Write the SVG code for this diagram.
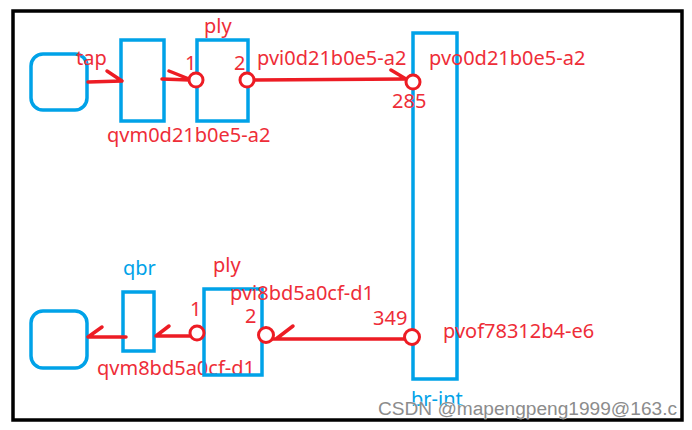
<svg xmlns="http://www.w3.org/2000/svg" width="692" height="430" viewBox="0 0 692 430">
<style>
.bl{fill:none;stroke:#00a2e8;stroke-width:3.5}
.rd{fill:none;stroke:#ed1c24;stroke-width:3.5;stroke-linecap:round}
.pt{fill:#fff;stroke:#ed1c24;stroke-width:3}
.t{font-family:"Noto Sans","Liberation Sans",sans-serif;font-size:20px;fill:#ee2d38}
.tb{font-family:"Noto Sans","Liberation Sans",sans-serif;font-size:20px;fill:#00a2e8}
.wm{font-family:"Liberation Sans",Arial,sans-serif;font-size:18px;fill:#8c8c8c;stroke:#fff;stroke-width:0.6;paint-order:stroke}
</style>
<rect x="0" y="0" width="692" height="430" fill="#fff"/>
<rect x="13" y="11" width="669" height="409" fill="#fff" stroke="#000" stroke-width="3.5"/>

<g id="vm1"><rect class="bl" x="31" y="54" width="56" height="56" rx="12"/>
<text class="t" x="76" y="65">tap</text></g>
<g id="qvm1"><rect class="bl" x="121" y="40" width="43" height="81"/>
<text class="t" x="107" y="142">qvm0d21b0e5-a2</text></g>
<g id="ply1"><rect class="bl" x="197" y="40" width="51" height="81"/>
<text class="t" x="204" y="33">ply</text>
<text class="t" x="185" y="70">1</text>
<text class="t" x="234" y="70">2</text>
<text class="t" x="257" y="65">pvi0d21b0e5-a2</text></g>
<g id="brint"><rect class="bl" x="413" y="33" width="44" height="346"/>
<text class="tb" x="411" y="406">br-int</text>
<text class="t" x="429" y="65">pvo0d21b0e5-a2</text>
<text class="t" x="392" y="108">285</text>
<text class="t" x="373" y="325">349</text>
<text class="t" x="443" y="338">pvof78312b4-e6</text></g>

<g id="vm2"><rect class="bl" x="31" y="311" width="56" height="57" rx="12"/></g>
<g id="qbr"><rect class="bl" x="123" y="292" width="31" height="59"/>
<text class="tb" x="123" y="275">qbr</text>
<text class="t" x="97" y="375">qvm8bd5a0cf-d1</text></g>
<g id="ply2"><rect class="bl" x="204" y="289" width="58" height="86"/>
<text class="t" x="213" y="272">ply</text>
<text class="t" x="190" y="316">1</text>
<text class="t" x="245" y="323">2</text>
<text class="t" x="230" y="300">pvi8bd5a0cf-d1</text></g>

<g id="connectors">
<path class="rd" d="M88 82 L122 81 M107 71 L122 81"/>
<path class="rd" d="M162 79 L190 80 M169 71 L189 79"/>
<path class="rd" d="M254 80 L407 79 M391 70 L406 79"/>
<path class="rd" d="M272 339 L405 339 M293 326 L276 339"/>
<path class="rd" d="M190 336 L156 336 M169 326 L156 336"/>
<path class="rd" d="M126 337 L88 337 M102 327 L88 337"/>
<circle class="pt" cx="196" cy="80" r="7"/>
<circle class="pt" cx="247" cy="80" r="7"/>
<circle class="pt" cx="413" cy="82" r="7"/>
<circle class="pt" cx="197" cy="333" r="7"/>
<circle class="pt" cx="266" cy="335" r="7.5"/>
<circle class="pt" cx="412" cy="337" r="7.5"/>
</g>
<text class="wm" x="378" y="415" textLength="299" lengthAdjust="spacingAndGlyphs">CSDN @mapengpeng1999@163.c</text>
</svg>
